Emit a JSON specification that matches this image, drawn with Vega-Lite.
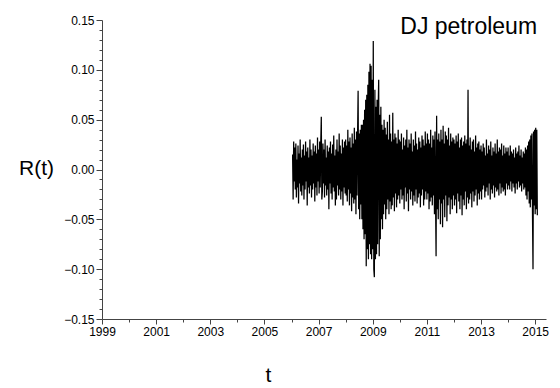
{
"$schema": "https://vega.github.io/schema/vega-lite/v6.json",
"width": 444, "height": 299,
"autosize": "none",
"padding": {"left": 102, "top": 20, "right": 14, "bottom": 69},
"background": "white",
"config": {"view": {"stroke": null}, "font": "Liberation Sans"},
"resolve": {"axis": {"x": "independent", "y": "independent"}},
"layer": [
{
"data": {"values": [
{"t":2006.04,"r":0.015},{"t":2006.06,"r":-0.03},{"t":2006.08,"r":0.028},{"t":2006.10,"r":-0.012},{"t":2006.12,"r":0.022},{"t":2006.14,"r":-0.02},{"t":2006.16,"r":0.026},{"t":2006.18,"r":-0.028},{"t":2006.20,"r":0.01},{"t":2006.22,"r":-0.018},{"t":2006.24,"r":0.024},{"t":2006.26,"r":-0.034},{"t":2006.28,"r":0.016},{"t":2006.30,"r":-0.014},{"t":2006.32,"r":0.03},{"t":2006.34,"r":-0.022},{"t":2006.36,"r":0.012},{"t":2006.38,"r":-0.026},{"t":2006.40,"r":0.02},{"t":2006.42,"r":-0.016},{"t":2006.44,"r":0.025},{"t":2006.46,"r":-0.03},{"t":2006.48,"r":0.014},
{"t":2006.50,"r":-0.02},{"t":2006.52,"r":0.028},{"t":2006.54,"r":-0.012},{"t":2006.56,"r":0.018},{"t":2006.58,"r":-0.036},{"t":2006.60,"r":0.022},{"t":2006.62,"r":-0.018},{"t":2006.64,"r":0.012},{"t":2006.66,"r":-0.024},{"t":2006.68,"r":0.03},{"t":2006.70,"r":-0.016},{"t":2006.72,"r":0.02},{"t":2006.74,"r":-0.028},{"t":2006.76,"r":0.014},{"t":2006.78,"r":-0.02},{"t":2006.80,"r":0.026},{"t":2006.82,"r":-0.014},{"t":2006.84,"r":0.018},{"t":2006.86,"r":-0.032},{"t":2006.88,"r":0.024},{"t":2006.90,"r":-0.018},{"t":2006.92,"r":0.016},{"t":2006.94,"r":-0.026},{"t":2006.96,"r":0.032},{"t":2006.98,"r":-0.012},
{"t":2007.00,"r":0.02},{"t":2007.02,"r":-0.024},{"t":2007.04,"r":0.028},{"t":2007.06,"r":-0.018},{"t":2007.08,"r":0.026},{"t":2007.10,"r":0.053},{"t":2007.12,"r":-0.03},{"t":2007.14,"r":-0.022},{"t":2007.16,"r":0.026},{"t":2007.18,"r":-0.014},{"t":2007.20,"r":0.02},{"t":2007.22,"r":-0.028},{"t":2007.24,"r":0.03},{"t":2007.26,"r":-0.016},{"t":2007.28,"r":0.012},{"t":2007.30,"r":-0.026},{"t":2007.32,"r":0.024},{"t":2007.34,"r":-0.02},{"t":2007.36,"r":0.018},{"t":2007.38,"r":-0.04},{"t":2007.40,"r":0.022},{"t":2007.42,"r":-0.014},{"t":2007.44,"r":0.028},{"t":2007.46,"r":-0.024},{"t":2007.48,"r":0.016},
{"t":2007.50,"r":-0.03},{"t":2007.52,"r":0.025},{"t":2007.54,"r":-0.018},{"t":2007.56,"r":0.034},{"t":2007.58,"r":-0.022},{"t":2007.60,"r":0.014},{"t":2007.62,"r":-0.036},{"t":2007.64,"r":0.02},{"t":2007.66,"r":-0.03},{"t":2007.68,"r":0.03},{"t":2007.70,"r":-0.016},{"t":2007.72,"r":0.018},{"t":2007.74,"r":-0.026},{"t":2007.76,"r":0.036},{"t":2007.78,"r":-0.02},{"t":2007.80,"r":0.024},{"t":2007.82,"r":-0.03},{"t":2007.84,"r":0.016},{"t":2007.86,"r":-0.022},{"t":2007.88,"r":0.03},{"t":2007.90,"r":-0.036},{"t":2007.92,"r":0.022},{"t":2007.94,"r":-0.018},{"t":2007.96,"r":0.028},{"t":2007.98,"r":-0.024},
{"t":2008.00,"r":0.03},{"t":2008.02,"r":-0.026},{"t":2008.04,"r":0.024},{"t":2008.06,"r":-0.032},{"t":2008.08,"r":0.04},{"t":2008.10,"r":-0.02},{"t":2008.12,"r":0.028},{"t":2008.14,"r":-0.036},{"t":2008.16,"r":0.032},{"t":2008.18,"r":-0.024},{"t":2008.20,"r":0.022},{"t":2008.22,"r":-0.042},{"t":2008.24,"r":0.036},{"t":2008.26,"r":-0.028},{"t":2008.28,"r":0.026},{"t":2008.30,"r":-0.034},{"t":2008.32,"r":0.042},{"t":2008.34,"r":-0.03},{"t":2008.36,"r":0.03},{"t":2008.38,"r":-0.045},{"t":2008.40,"r":0.038},{"t":2008.42,"r":-0.026},{"t":2008.44,"r":0.034},{"t":2008.46,"r":0.079},{"t":2008.48,"r":-0.04},
{"t":2008.50,"r":0.036},{"t":2008.52,"r":-0.05},{"t":2008.54,"r":0.04},{"t":2008.56,"r":-0.035},{"t":2008.58,"r":0.045},{"t":2008.60,"r":-0.05},{"t":2008.62,"r":0.045},{"t":2008.64,"r":-0.06},{"t":2008.66,"r":0.05},{"t":2008.68,"r":-0.07},{"t":2008.70,"r":0.06},{"t":2008.72,"r":-0.065},{"t":2008.74,"r":0.07},{"t":2008.76,"r":-0.097},{"t":2008.78,"r":0.075},{"t":2008.80,"r":-0.08},{"t":2008.82,"r":0.085},{"t":2008.84,"r":-0.09},{"t":2008.86,"r":0.098},{"t":2008.88,"r":-0.075},{"t":2008.90,"r":0.106},{"t":2008.92,"r":-0.085},{"t":2008.94,"r":0.104},{"t":2008.96,"r":-0.09},{"t":2008.98,"r":0.09},
{"t":2009.00,"r":-0.08},{"t":2009.02,"r":0.129},{"t":2009.04,"r":-0.1},{"t":2009.06,"r":-0.108},{"t":2009.08,"r":0.08},{"t":2009.10,"r":-0.09},{"t":2009.12,"r":0.063},{"t":2009.14,"r":-0.085},{"t":2009.16,"r":0.07},{"t":2009.18,"r":-0.075},{"t":2009.20,"r":0.06},{"t":2009.22,"r":0.09},{"t":2009.24,"r":-0.087},{"t":2009.26,"r":0.055},{"t":2009.28,"r":-0.07},{"t":2009.30,"r":0.063},{"t":2009.32,"r":-0.05},{"t":2009.34,"r":0.045},{"t":2009.36,"r":-0.06},{"t":2009.38,"r":0.04},{"t":2009.40,"r":-0.045},{"t":2009.42,"r":0.05},{"t":2009.44,"r":-0.035},{"t":2009.46,"r":0.042},{"t":2009.48,"r":-0.05},
{"t":2009.50,"r":0.035},{"t":2009.52,"r":-0.04},{"t":2009.54,"r":0.048},{"t":2009.56,"r":-0.03},{"t":2009.58,"r":0.03},{"t":2009.60,"r":-0.045},{"t":2009.62,"r":0.055},{"t":2009.64,"r":-0.032},{"t":2009.66,"r":0.036},{"t":2009.68,"r":-0.04},{"t":2009.70,"r":0.028},{"t":2009.72,"r":-0.036},{"t":2009.74,"r":0.057},{"t":2009.76,"r":-0.028},{"t":2009.78,"r":0.03},{"t":2009.80,"r":-0.042},{"t":2009.82,"r":0.036},{"t":2009.84,"r":-0.024},{"t":2009.86,"r":0.032},{"t":2009.88,"r":-0.038},{"t":2009.90,"r":0.026},{"t":2009.92,"r":-0.03},{"t":2009.94,"r":0.04},{"t":2009.96,"r":-0.026},{"t":2009.98,"r":0.03},
{"t":2010.00,"r":-0.034},{"t":2010.02,"r":0.028},{"t":2010.04,"r":-0.02},{"t":2010.06,"r":0.036},{"t":2010.08,"r":-0.03},{"t":2010.10,"r":0.02},{"t":2010.12,"r":-0.026},{"t":2010.14,"r":0.032},{"t":2010.16,"r":-0.04},{"t":2010.18,"r":0.024},{"t":2010.20,"r":-0.018},{"t":2010.22,"r":0.03},{"t":2010.24,"r":-0.032},{"t":2010.26,"r":0.04},{"t":2010.28,"r":-0.024},{"t":2010.30,"r":0.022},{"t":2010.32,"r":-0.042},{"t":2010.34,"r":0.03},{"t":2010.36,"r":-0.02},{"t":2010.38,"r":0.026},{"t":2010.40,"r":-0.03},{"t":2010.42,"r":0.036},{"t":2010.44,"r":-0.022},{"t":2010.46,"r":0.018},{"t":2010.48,"r":-0.036},
{"t":2010.50,"r":0.03},{"t":2010.52,"r":-0.026},{"t":2010.54,"r":0.024},{"t":2010.56,"r":-0.032},{"t":2010.58,"r":0.038},{"t":2010.60,"r":-0.02},{"t":2010.62,"r":0.026},{"t":2010.64,"r":-0.034},{"t":2010.66,"r":0.02},{"t":2010.68,"r":-0.028},{"t":2010.70,"r":0.032},{"t":2010.72,"r":-0.024},{"t":2010.74,"r":0.028},{"t":2010.76,"r":-0.038},{"t":2010.78,"r":0.022},{"t":2010.80,"r":-0.026},{"t":2010.82,"r":0.034},{"t":2010.84,"r":-0.02},{"t":2010.86,"r":0.03},{"t":2010.88,"r":-0.036},{"t":2010.90,"r":0.024},{"t":2010.92,"r":-0.03},{"t":2010.94,"r":0.038},{"t":2010.96,"r":-0.022},{"t":2010.98,"r":0.026},
{"t":2011.00,"r":-0.03},{"t":2011.02,"r":0.036},{"t":2011.04,"r":-0.024},{"t":2011.06,"r":0.03},{"t":2011.08,"r":-0.04},{"t":2011.10,"r":0.026},{"t":2011.12,"r":-0.032},{"t":2011.14,"r":0.04},{"t":2011.16,"r":-0.028},{"t":2011.18,"r":0.022},{"t":2011.20,"r":-0.036},{"t":2011.22,"r":0.034},{"t":2011.24,"r":-0.026},{"t":2011.26,"r":0.03},{"t":2011.28,"r":-0.045},{"t":2011.30,"r":0.038},{"t":2011.32,"r":-0.03},{"t":2011.34,"r":-0.087},{"t":2011.36,"r":0.054},{"t":2011.38,"r":-0.04},{"t":2011.40,"r":0.03},{"t":2011.42,"r":-0.05},{"t":2011.44,"r":0.036},{"t":2011.46,"r":-0.03},{"t":2011.48,"r":0.028},
{"t":2011.50,"r":-0.055},{"t":2011.52,"r":0.04},{"t":2011.54,"r":-0.034},{"t":2011.56,"r":0.03},{"t":2011.58,"r":-0.058},{"t":2011.60,"r":0.044},{"t":2011.62,"r":-0.03},{"t":2011.64,"r":0.026},{"t":2011.66,"r":-0.048},{"t":2011.68,"r":0.038},{"t":2011.70,"r":-0.026},{"t":2011.72,"r":0.034},{"t":2011.74,"r":-0.052},{"t":2011.76,"r":0.03},{"t":2011.78,"r":-0.036},{"t":2011.80,"r":0.042},{"t":2011.82,"r":-0.028},{"t":2011.84,"r":0.024},{"t":2011.86,"r":-0.045},{"t":2011.88,"r":0.036},{"t":2011.90,"r":-0.03},{"t":2011.92,"r":0.028},{"t":2011.94,"r":-0.04},{"t":2011.96,"r":0.032},{"t":2011.98,"r":-0.026},
{"t":2012.00,"r":0.03},{"t":2012.02,"r":-0.036},{"t":2012.04,"r":0.026},{"t":2012.06,"r":-0.03},{"t":2012.08,"r":0.034},{"t":2012.10,"r":-0.044},{"t":2012.12,"r":0.028},{"t":2012.14,"r":-0.024},{"t":2012.16,"r":0.036},{"t":2012.18,"r":-0.032},{"t":2012.20,"r":0.022},{"t":2012.22,"r":-0.04},{"t":2012.24,"r":0.03},{"t":2012.26,"r":-0.026},{"t":2012.28,"r":0.032},{"t":2012.30,"r":-0.046},{"t":2012.32,"r":0.024},{"t":2012.34,"r":-0.03},{"t":2012.36,"r":0.028},{"t":2012.38,"r":-0.036},{"t":2012.40,"r":0.034},{"t":2012.42,"r":-0.022},{"t":2012.44,"r":0.026},{"t":2012.46,"r":-0.04},{"t":2012.48,"r":0.03},
{"t":2012.50,"r":-0.028},{"t":2012.52,"r":0.08},{"t":2012.54,"r":-0.034},{"t":2012.56,"r":0.024},{"t":2012.58,"r":-0.03},{"t":2012.60,"r":0.032},{"t":2012.62,"r":-0.024},{"t":2012.64,"r":0.02},{"t":2012.66,"r":-0.038},{"t":2012.68,"r":0.028},{"t":2012.70,"r":-0.022},{"t":2012.72,"r":0.03},{"t":2012.74,"r":-0.032},{"t":2012.76,"r":0.018},{"t":2012.78,"r":-0.026},{"t":2012.80,"r":0.034},{"t":2012.82,"r":-0.02},{"t":2012.84,"r":0.022},{"t":2012.86,"r":-0.036},{"t":2012.88,"r":0.026},{"t":2012.90,"r":-0.024},{"t":2012.92,"r":0.028},{"t":2012.94,"r":-0.03},{"t":2012.96,"r":0.02},{"t":2012.98,"r":-0.022},
{"t":2013.00,"r":0.024},{"t":2013.02,"r":-0.03},{"t":2013.04,"r":0.018},{"t":2013.06,"r":-0.02},{"t":2013.08,"r":0.026},{"t":2013.10,"r":-0.016},{"t":2013.12,"r":0.022},{"t":2013.14,"r":-0.028},{"t":2013.16,"r":0.014},{"t":2013.18,"r":-0.022},{"t":2013.20,"r":0.03},{"t":2013.22,"r":-0.018},{"t":2013.24,"r":0.016},{"t":2013.26,"r":-0.026},{"t":2013.28,"r":0.024},{"t":2013.30,"r":-0.014},{"t":2013.32,"r":0.02},{"t":2013.34,"r":-0.03},{"t":2013.36,"r":0.028},{"t":2013.38,"r":-0.02},{"t":2013.40,"r":0.014},{"t":2013.42,"r":-0.024},{"t":2013.44,"r":0.022},{"t":2013.46,"r":-0.016},{"t":2013.48,"r":0.018},
{"t":2013.50,"r":-0.028},{"t":2013.52,"r":0.026},{"t":2013.54,"r":-0.018},{"t":2013.56,"r":0.016},{"t":2013.58,"r":-0.022},{"t":2013.60,"r":0.03},{"t":2013.62,"r":-0.02},{"t":2013.64,"r":0.018},{"t":2013.66,"r":-0.026},{"t":2013.68,"r":0.022},{"t":2013.70,"r":-0.014},{"t":2013.72,"r":0.02},{"t":2013.74,"r":-0.024},{"t":2013.76,"r":0.026},{"t":2013.78,"r":-0.018},{"t":2013.80,"r":0.014},{"t":2013.82,"r":-0.022},{"t":2013.84,"r":0.024},{"t":2013.86,"r":-0.02},{"t":2013.88,"r":0.016},{"t":2013.90,"r":-0.026},{"t":2013.92,"r":0.022},{"t":2013.94,"r":-0.014},{"t":2013.96,"r":0.018},{"t":2013.98,"r":-0.02},
{"t":2014.00,"r":0.022},{"t":2014.02,"r":-0.016},{"t":2014.04,"r":0.014},{"t":2014.06,"r":-0.02},{"t":2014.08,"r":0.024},{"t":2014.10,"r":-0.012},{"t":2014.12,"r":0.018},{"t":2014.14,"r":-0.022},{"t":2014.16,"r":0.016},{"t":2014.18,"r":-0.014},{"t":2014.20,"r":0.02},{"t":2014.22,"r":-0.018},{"t":2014.24,"r":0.012},{"t":2014.26,"r":-0.024},{"t":2014.28,"r":0.022},{"t":2014.30,"r":-0.014},{"t":2014.32,"r":0.016},{"t":2014.34,"r":-0.02},{"t":2014.36,"r":0.018},{"t":2014.38,"r":-0.012},{"t":2014.40,"r":0.024},{"t":2014.42,"r":-0.018},{"t":2014.44,"r":0.014},{"t":2014.46,"r":-0.016},{"t":2014.48,"r":0.02},
{"t":2014.50,"r":-0.022},{"t":2014.52,"r":0.012},{"t":2014.54,"r":-0.014},{"t":2014.56,"r":0.018},{"t":2014.58,"r":-0.02},{"t":2014.60,"r":0.016},{"t":2014.62,"r":-0.018},{"t":2014.64,"r":0.022},{"t":2014.66,"r":-0.026},{"t":2014.68,"r":0.02},{"t":2014.70,"r":-0.03},{"t":2014.72,"r":0.024},{"t":2014.74,"r":-0.022},{"t":2014.76,"r":0.028},{"t":2014.78,"r":-0.034},{"t":2014.80,"r":0.03},{"t":2014.82,"r":-0.038},{"t":2014.84,"r":0.034},{"t":2014.86,"r":-0.03},{"t":2014.88,"r":0.036},{"t":2014.90,"r":-0.042},{"t":2014.92,"r":-0.1},{"t":2014.94,"r":0.038},{"t":2014.96,"r":-0.036},{"t":2014.98,"r":0.04},
{"t":2015.00,"r":-0.045},{"t":2015.02,"r":0.042},{"t":2015.04,"r":-0.04},{"t":2015.06,"r":0.04},{"t":2015.08,"r":-0.046}
]},
"mark": {"type": "line", "color": "black", "strokeWidth": 1.25, "clip": true},
"encoding": {
"x": {"field": "t", "type": "quantitative",
"scale": {"domain": [1999, 2015.4], "nice": false, "zero": false},
"axis": {"orient": "bottom", "values": [1999,2001,2003,2005,2007,2009,2011,2013,2015], "format": "d", "grid": false, "labelFlush": false,
"domainColor": "#444", "tickColor": "#444", "tickSize": 5, "labelFontSize": 12, "labelColor": "black", "labelPadding": 2,
"labelFont": "Liberation Sans",
"title": "t", "titleFontSize": 21, "titleFontWeight": "normal", "titleColor": "black", "titleFont": "Liberation Sans",
"titleX": 166, "titleY": 56, "titleBaseline": "middle", "titleAlign": "center"}},
"y": {"field": "r", "type": "quantitative",
"scale": {"domain": [-0.15, 0.15], "nice": false, "zero": false},
"axis": {"orient": "left", "values": [-0.15,-0.1,-0.05,0,0.05,0.1,0.15], "format": ".2f", "grid": false, "labelFlush": false,
"domainColor": "#444", "tickColor": "#444", "tickSize": 6, "labelFontSize": 12, "labelColor": "black", "labelPadding": 2,
"labelFont": "Liberation Sans",
"title": "R(t)", "titleFontSize": 21, "titleFontWeight": "normal", "titleColor": "black", "titleFont": "Liberation Sans",
"titleAngle": 0, "titleX": -66, "titleY": 148, "titleBaseline": "middle", "titleAlign": "center"}}
}
},
{
"data": {"values": [{"label": "DJ petroleum"}]},
"mark": {"type": "text", "align": "right", "baseline": "alphabetic", "fontSize": 23, "font": "Liberation Sans", "color": "black"},
"encoding": {
"text": {"field": "label", "type": "nominal"},
"x": {"datum": 2015.07, "type": "quantitative",
"axis": {"orient": "bottom", "values": [2000,2002,2004,2006,2008,2010,2012,2014], "labels": false, "domain": false, "grid": false, "tickColor": "#444", "tickSize": 3, "title": null}},
"y": {"datum": 0.1364, "type": "quantitative",
"axis": {"orient": "left", "values": [-0.14,-0.13,-0.12,-0.11,-0.09,-0.08,-0.07,-0.06,-0.04,-0.03,-0.02,-0.01,0.01,0.02,0.03,0.04,0.06,0.07,0.08,0.09,0.11,0.12,0.13,0.14], "labels": false, "domain": false, "grid": false, "tickColor": "#444", "tickSize": 3, "title": null}}
}
}
]
}
